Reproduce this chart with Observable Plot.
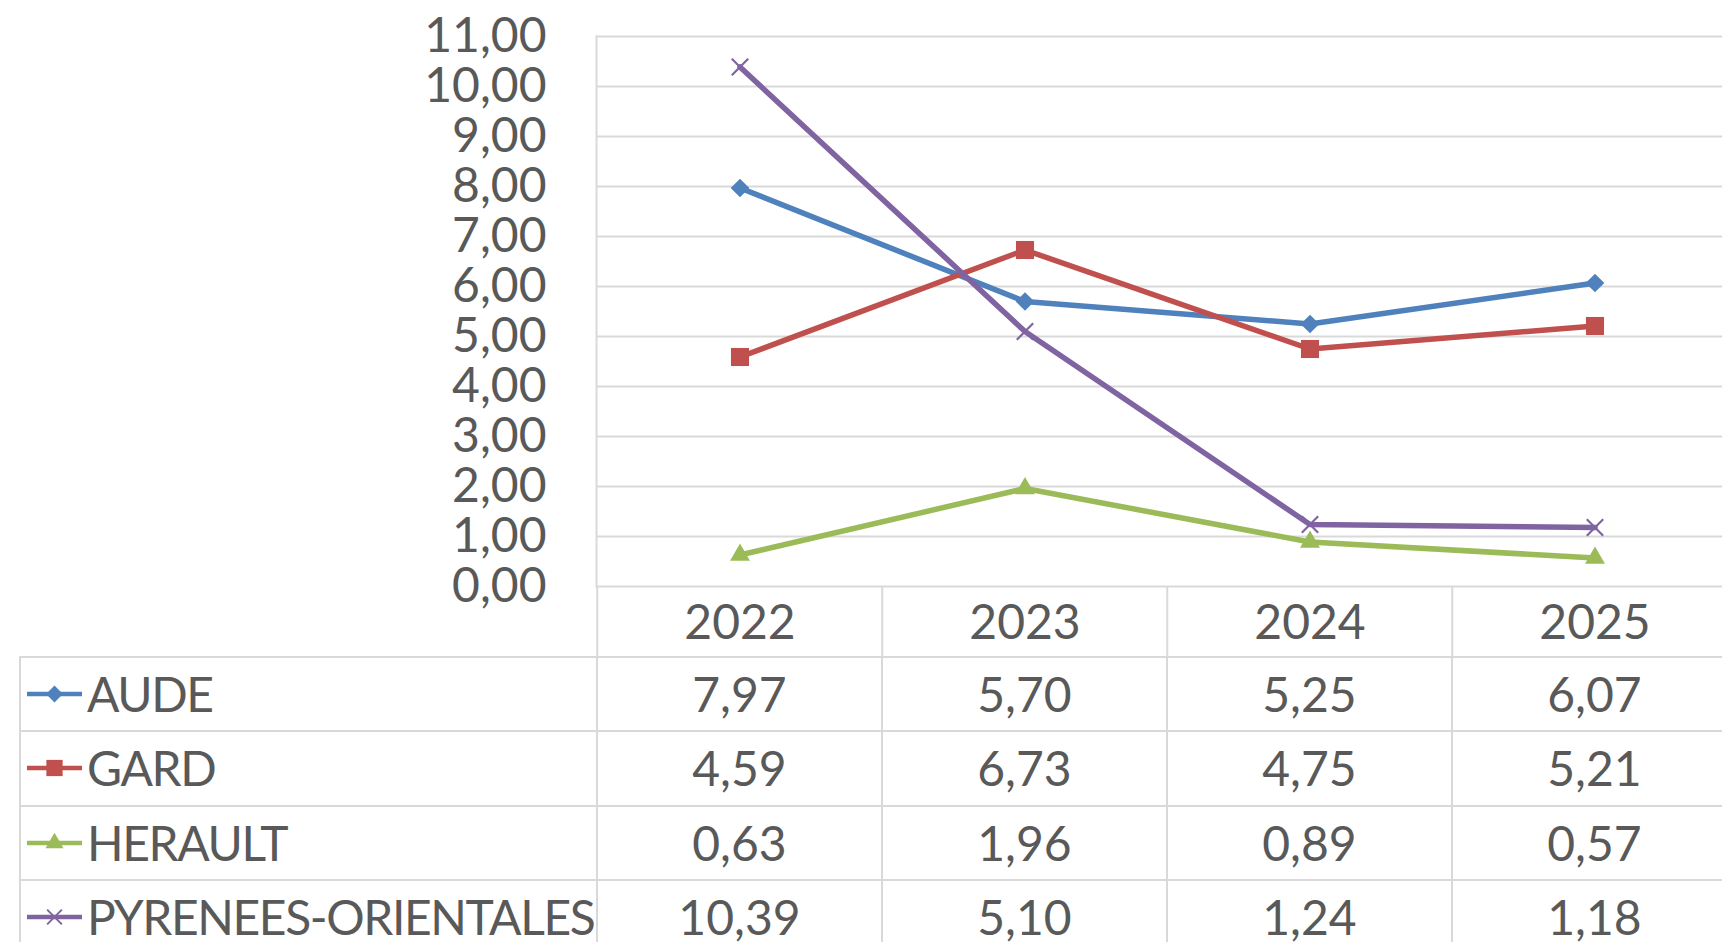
<!DOCTYPE html>
<html><head><meta charset="utf-8">
<script src="https://cdn.jsdelivr.net/npm/d3@7"></script>
<script src="https://cdn.jsdelivr.net/npm/@observablehq/plot@0.6"></script>
<style>
html,body{margin:0;padding:0;background:#fff;overflow:hidden}
#wrap{position:relative;width:1722px;height:942px;overflow:hidden;font-family:Lato,sans-serif;color:#595959;background:#fff}
#chart{position:absolute;left:0;top:0}
.hl{position:absolute;height:2px;background:#d9d9d9}
.vl{position:absolute;width:2px;background:#d9d9d9}
.cell{position:absolute;display:flex;align-items:center;font-size:48px;white-space:nowrap;line-height:1}
.lab{letter-spacing:-1.4px;margin-left:5px}
</style></head>
<body><div id="wrap"><div id="chart"></div></div>
<script>
const years = ["2022", "2023", "2024", "2025"];
const aude = [7.97, 5.70, 5.25, 6.07];
const gard = [4.59, 6.73, 4.75, 5.21];
const herault = [0.63, 1.96, 0.89, 0.57];
const pyrenees = [10.39, 5.10, 1.24, 1.18];
const seriesNames = ["AUDE", "GARD", "HERAULT", "PYRENEES-ORIENTALES"];
const seriesValues = [aude, gard, herault, pyrenees];
const seriesColors = ["#4f81bd", "#c0504d", "#9bbb59", "#8064a2"];
const seriesSymbols = ["diamond2", "square", "triangle", "times"];
const yTicks = [0, 1, 2, 3, 4, 5, 6, 7, 8, 9, 10, 11];

const fmt = d => d.toFixed(2).replace(".", ",");
const rows = seriesNames.flatMap((s, i) => years.map((y, j) => ({series: s, year: y, value: seriesValues[i][j]})));
const symbolR = {diamond2: 8.4, square: 10.2, triangle: 7.4, times: 7.5};

const W = 1722, plotLeft = 596, plotRight = 1738, plotTop = 36, plotBottom = 586, headerBottom = 657;
const halfBand = (plotRight - plotLeft) / years.length / 2;

const marks = [
  Plot.gridY(yTicks, {stroke: "#d9d9d9", strokeOpacity: 1, strokeWidth: 2}),
  Plot.frame({anchor: "left", stroke: "#d9d9d9", strokeWidth: 2}),
  Plot.axisY({ticks: yTicks, tickFormat: fmt, tickSize: 0, tickPadding: 50, fontSize: 48, fill: "#595959", label: null}),
  Plot.axisX({tickSize: 0, tickPadding: 18, fontSize: 48, fill: "#595959", label: null}),
  Plot.axisX({tickFormat: () => "", tickSize: headerBottom - plotBottom, dx: -halfBand, stroke: "#d9d9d9", strokeWidth: 2, strokeOpacity: 1, label: null})
];
seriesNames.forEach((s, i) => {
  const data = rows.filter(d => d.series === s);
  marks.push(Plot.line(data, {x: "year", y: "value", stroke: seriesColors[i], strokeWidth: 5.5, strokeLinejoin: "round", strokeLinecap: "round"}));
  const sym = seriesSymbols[i];
  if (sym === "times") {
    marks.push(Plot.dot(data, {x: "year", y: "value", symbol: sym, r: symbolR[sym], fill: "none", stroke: seriesColors[i], strokeWidth: 2.2}));
  } else {
    marks.push(Plot.dot(data, {x: "year", y: "value", symbol: sym, r: symbolR[sym], fill: seriesColors[i], stroke: "none"}));
  }
});

const chart = Plot.plot({
  width: W, height: headerBottom,
  marginLeft: plotLeft, marginRight: W - plotRight, marginTop: plotTop, marginBottom: headerBottom - plotBottom,
  style: {fontFamily: "Lato, sans-serif", color: "#595959", background: "transparent", overflow: "visible"},
  x: {type: "band", domain: years, range: [plotLeft, plotRight], padding: 0, axis: null, label: null},
  y: {domain: [0, 11], range: [plotBottom, plotTop], axis: null, label: null},
  marks
});
document.getElementById("chart").appendChild(chart);

// data table below the chart
const wrap = document.getElementById("wrap");
const xs = chart.scale("x");
const bw = xs.bandwidth;
const tableLeft = 20, rowH = 74.33;
function addDiv(cls, st) {
  const d = document.createElement("div");
  d.className = cls;
  for (const k in st) d.style[k] = typeof st[k] === "number" ? st[k] + "px" : st[k];
  wrap.appendChild(d);
  return d;
}
for (let i = 0; i <= seriesNames.length; i++) {
  addDiv("hl", {left: tableLeft - 1, top: headerBottom + i * rowH - 1, width: plotRight - tableLeft});
}
[tableLeft, ...years.map(y => xs.apply(y))].forEach(v => addDiv("vl", {left: v - 1, top: headerBottom, height: 942 - headerBottom}));

const d3sym = {diamond2: d3.symbolDiamond2, square: d3.symbolSquare, triangle: d3.symbolTriangle, times: d3.symbolTimes};
seriesNames.forEach((s, i) => {
  const top = headerBottom + i * rowH;
  const lab = addDiv("cell", {left: 27, top: top, height: rowH, width: plotLeft - 27});
  const sym = seriesSymbols[i];
  const size = Math.PI * (symbolR[sym] * 0.9) ** 2;
  const path = d3.symbol(d3sym[sym], size)();
  const markAttr = sym === "times" ? `fill="none" stroke="${seriesColors[i]}" stroke-width="2"` : `fill="${seriesColors[i]}"`;
  lab.innerHTML = `<svg width="55" height="24" style="flex:none"><line x1="0" x2="55" y1="12" y2="12" stroke="${seriesColors[i]}" stroke-width="4.5" stroke-linecap="round"/><path d="${path}" transform="translate(27.5,12)" ${markAttr}/></svg><span class="lab">${s}</span>`;
  years.forEach((y, j) => {
    const c = addDiv("cell", {left: xs.apply(y), top: top, height: rowH, width: bw, justifyContent: "center"});
    c.textContent = fmt(seriesValues[i][j]);
  });
});
</script></body></html>
